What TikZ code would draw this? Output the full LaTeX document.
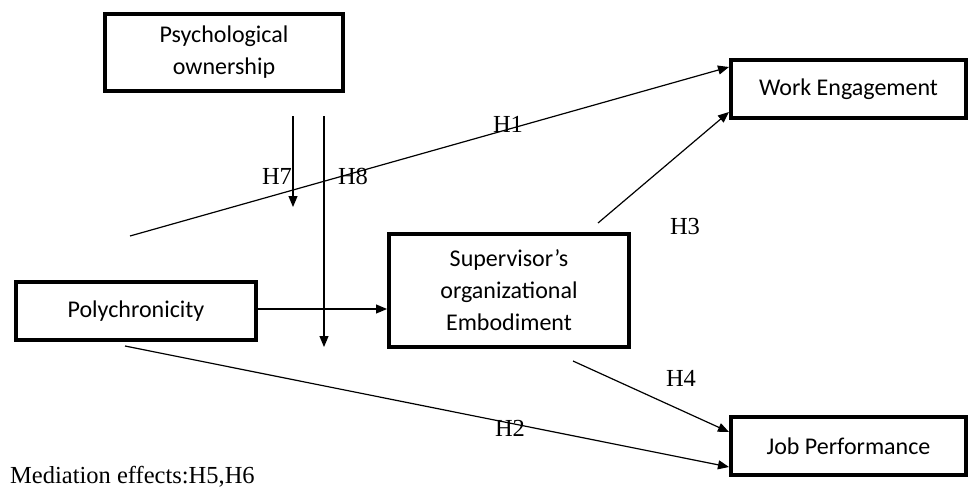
\documentclass[tikz,border=0pt]{standalone}
\usepackage{fontspec}
\setmainfont{Liberation Serif}
\newfontfamily\boxfont{Carlito}
\usetikzlibrary{arrows.meta,calc}
\tikzset{>={Triangle[length=11pt,width=9pt]}}

\begin{document}
\begin{tikzpicture}[x=1pt,y=-1pt]
      \tikzset{var box/.style = {draw,line width=4pt,align=center,inner sep=0pt,
          font=\boxfont\fontsize{24}{32}\selectfont,minimum width=#1}}
      \tikzset{hyp/.style = {inner sep=0pt,font=\fontsize{24.5}{28}\selectfont}}
      \tikzset{path/.style = {->,line width=1.2pt}}

      \useasboundingbox (0,0) rectangle (970,490);

      % constructs
      \node [var box=238, minimum height=77] (PO) at (224,52.5) {Psychological\\ownership};
      \node [var box=235, minimum height=58] (WE) at (848.5,89) {Work Engagement};
      \node [var box=240, minimum height=113] (SOE) at (509,290.5) {Supervisor’s\\organizational\\Embodiment};
      \node [var box=240, minimum height=58] (PC) at (136,311) {Polychronicity};
      \node [var box=235, minimum height=58] (JP) at (848.5,446) {Job Performance};

      % free ends
      \coordinate (h1s) at (130,236);
      \coordinate (h2s) at (125,346);
      \coordinate (h3s) at (598,223);
      \coordinate (h4s) at (573,361);
      \coordinate (h7s) at (293,116);
      \coordinate (h7e) at (293,207);
      \coordinate (h8s) at (324,116);
      \coordinate (h8e) at (324,347);

      \draw [path] (h1s) -- ([yshift=-9pt]WE.north west);
      \draw [path] (h3s) -- ([yshift=8pt]WE.south west);
      \draw [path] (PC.east |- 0,309) -- (SOE.west |- 0,309);
      \draw [path] (h4s) -- ([yshift=-17pt]JP.north west);
      \draw [path] (h2s) -- ([yshift=10pt]JP.south west);
      \draw [path] (h7s) -- (h7e);
      \draw [path] (h8s) -- (h8e);

      % labels
      \node [hyp] (H1) at (508,124) {H1};
      \node [hyp] (H2) at (510,428) {H2};
      \node [hyp] (H3) at (685,227) {H3};
      \node [hyp] (H4) at (681,378) {H4};
      \node [hyp] (H7) at (277,176) {H7};
      \node [hyp] (H8) at (353,176) {H8};
      \node [hyp, anchor=base west] (med) at (10,483) {Mediation effects:H5,H6};
    \end{tikzpicture}
\end{document}
